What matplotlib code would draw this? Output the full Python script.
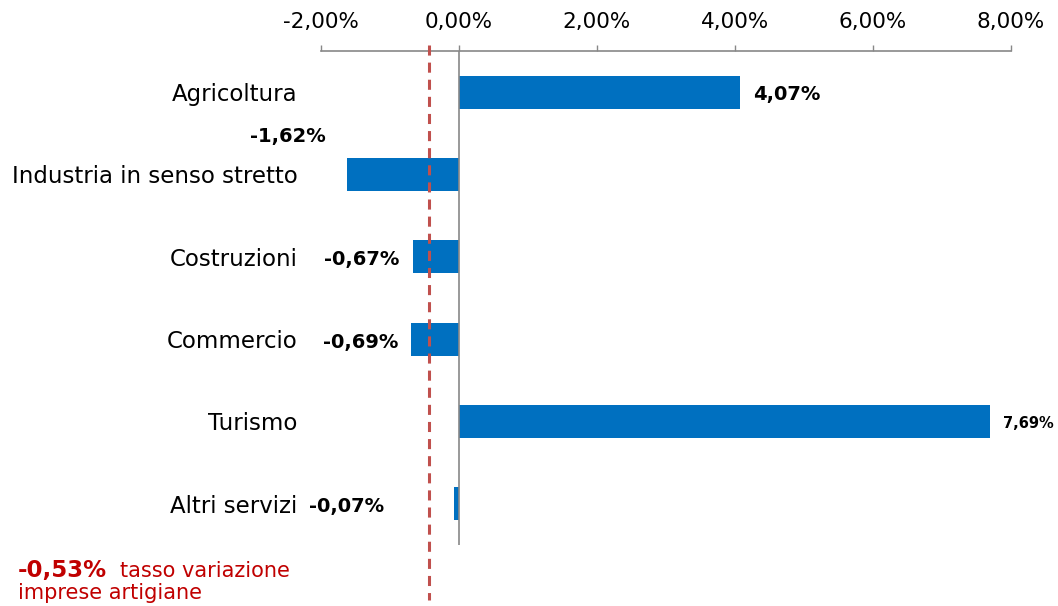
import matplotlib.pyplot as plt

# dati
categorie = ['Agricoltura', 'Industria in senso stretto', 'Costruzioni',
             'Commercio', 'Turismo', 'Altri servizi']
variazioni = [4.07, -1.62, -0.67, -0.69, 7.69, -0.07]
tasso_artigiane = -0.53
linea_rif = -0.43   # posizione della linea tratteggiata come appare nel grafico
tick_vals = [-2, 0, 2, 4, 6, 8]

# posizione etichette (pixel) : dx, dy, allineamento, dimensione
etichette_pos = [(13, -2, 'left', 14), (-21, 38, 'right', 14), (-13, -3, 'right', 14),
                 (-13, -3, 'right', 14), (13, -2, 'left', 10.5), (-70, -3, 'right', 14)]

def fmt(v):
    return f'{v:.2f}%'.replace('.', ',')

fig = plt.figure(figsize=(10.58, 6.06), dpi=100)
ax = fig.add_axes([321/1058, 1 - 545/606, 690/1058, 494/606])

y = list(range(len(categorie)))
ax.barh(y, variazioni, height=0.4, color='#0070C0', zorder=2)
ax.axvline(0, color='#888888', lw=1.2, zorder=3)

# linea tratteggiata del tasso medio
ax.plot([linea_rif, linea_rif], [-0.57, 6.17], clip_on=False, color='#C0504D',
        lw=2.2, ls=(0, (3.3, 2.3)), dash_capstyle='butt', zorder=4)

ax.set_xlim(-2, 8)
ax.set_ylim(5.5, -0.5)

ax.set_xticks(tick_vals, [fmt(t) for t in tick_vals])
ax.xaxis.tick_top()
ax.tick_params(axis='x', direction='out', length=4.5, width=1, color='#888888',
               labelsize=15.5, pad=9)
ax.set_yticks(y, categorie)
ax.tick_params(axis='y', length=0, labelsize=16.5, pad=17)

for s in ['left', 'right', 'bottom']:
    ax.spines[s].set_visible(False)
ax.spines['top'].set_color('#888888')
ax.spines['top'].set_linewidth(1.2)

for i, v in enumerate(variazioni):
    dx, dy, ha, fs = etichette_pos[i]
    ax.annotate(fmt(v), xy=(v, i), xytext=(dx, dy), textcoords='offset pixels',
                ha=ha, va='center', fontsize=fs, fontweight='bold', color='black')

# nota in basso
fig.text(18/1058, 1 - 577/606, fmt(tasso_artigiane), color='#C00000', fontsize=16.5,
         fontweight='bold', va='baseline')
fig.text(120/1058, 1 - 577/606, 'tasso variazione', color='#C00000', fontsize=15,
         va='baseline')
fig.text(18/1058, 1 - 599/606, 'imprese artigiane', color='#C00000', fontsize=15,
         va='baseline')

plt.savefig('out.png', dpi=100)
